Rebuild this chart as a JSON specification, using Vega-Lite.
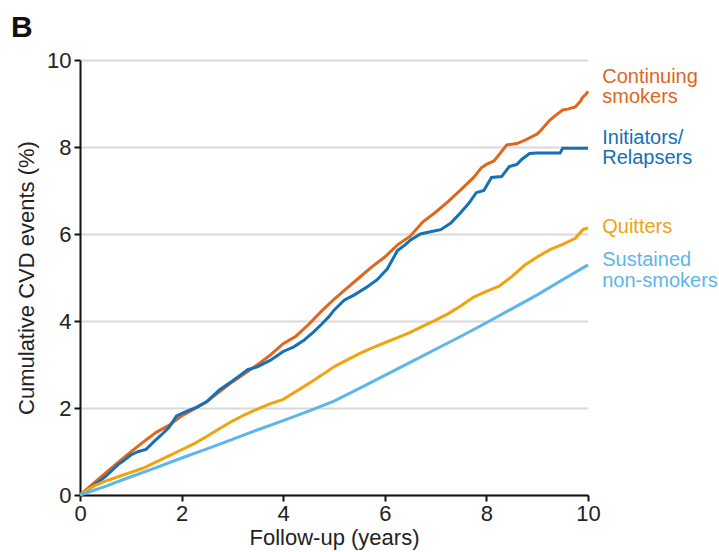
{
  "$schema": "https://vega.github.io/schema/vega-lite/v6.json",
  "width": 508,
  "height": 435,
  "autosize": {"type": "none"},
  "padding": {"left": 80, "top": 60, "right": 131, "bottom": 57},
  "background": "white",
  "config": {
    "font": "Liberation Sans",
    "view": {"stroke": null},
    "axis": {
      "labelFont": "Liberation Sans",
      "titleFont": "Liberation Sans",
      "labelFontSize": 22,
      "titleFontSize": 22,
      "labelColor": "#222",
      "titleColor": "#222",
      "titleFontWeight": "normal",
      "labelFlush": false,
      "domainColor": "#111",
      "domainWidth": 2,
      "tickColor": "#111",
      "tickWidth": 2,
      "tickSize": 6,
      "gridColor": "#d9d9d9",
      "gridWidth": 2
    }
  },
  "title": {
    "text": "B",
    "anchor": "start",
    "frame": "group",
    "fontSize": 30,
    "fontWeight": "bold",
    "color": "#111",
    "font": "Liberation Sans",
    "baseline": "bottom",
    "offset": 16,
    "dx": -69,
    "dy": 40
  },
  "layer": [
    {
      "data": {
        "values": [
          {"group": "Continuing smokers", "year": 0, "pct": 0},
          {"group": "Continuing smokers", "year": 0.25, "pct": 0.25},
          {"group": "Continuing smokers", "year": 0.5, "pct": 0.5},
          {"group": "Continuing smokers", "year": 0.75, "pct": 0.75},
          {"group": "Continuing smokers", "year": 1.0, "pct": 0.99},
          {"group": "Continuing smokers", "year": 1.25, "pct": 1.22},
          {"group": "Continuing smokers", "year": 1.5, "pct": 1.44},
          {"group": "Continuing smokers", "year": 1.75, "pct": 1.6},
          {"group": "Continuing smokers", "year": 2.0, "pct": 1.82},
          {"group": "Continuing smokers", "year": 2.25, "pct": 1.98},
          {"group": "Continuing smokers", "year": 2.5, "pct": 2.15},
          {"group": "Continuing smokers", "year": 2.75, "pct": 2.38},
          {"group": "Continuing smokers", "year": 3.0, "pct": 2.6},
          {"group": "Continuing smokers", "year": 3.25, "pct": 2.8},
          {"group": "Continuing smokers", "year": 3.5, "pct": 3.0},
          {"group": "Continuing smokers", "year": 3.75, "pct": 3.22},
          {"group": "Continuing smokers", "year": 4.0, "pct": 3.48},
          {"group": "Continuing smokers", "year": 4.25, "pct": 3.65},
          {"group": "Continuing smokers", "year": 4.5, "pct": 3.92},
          {"group": "Continuing smokers", "year": 4.75, "pct": 4.22},
          {"group": "Continuing smokers", "year": 5.0, "pct": 4.5},
          {"group": "Continuing smokers", "year": 5.25, "pct": 4.75},
          {"group": "Continuing smokers", "year": 5.5, "pct": 5.0},
          {"group": "Continuing smokers", "year": 5.75, "pct": 5.25},
          {"group": "Continuing smokers", "year": 6.0, "pct": 5.47},
          {"group": "Continuing smokers", "year": 6.25, "pct": 5.75},
          {"group": "Continuing smokers", "year": 6.5, "pct": 5.95},
          {"group": "Continuing smokers", "year": 6.75, "pct": 6.28},
          {"group": "Continuing smokers", "year": 7.0, "pct": 6.5},
          {"group": "Continuing smokers", "year": 7.25, "pct": 6.75},
          {"group": "Continuing smokers", "year": 7.5, "pct": 7.02},
          {"group": "Continuing smokers", "year": 7.75, "pct": 7.3},
          {"group": "Continuing smokers", "year": 7.9, "pct": 7.52},
          {"group": "Continuing smokers", "year": 8.0, "pct": 7.6},
          {"group": "Continuing smokers", "year": 8.15, "pct": 7.68},
          {"group": "Continuing smokers", "year": 8.3, "pct": 7.9},
          {"group": "Continuing smokers", "year": 8.4, "pct": 8.05},
          {"group": "Continuing smokers", "year": 8.6, "pct": 8.08},
          {"group": "Continuing smokers", "year": 8.75, "pct": 8.15},
          {"group": "Continuing smokers", "year": 9.0, "pct": 8.3},
          {"group": "Continuing smokers", "year": 9.1, "pct": 8.42},
          {"group": "Continuing smokers", "year": 9.25, "pct": 8.62},
          {"group": "Continuing smokers", "year": 9.4, "pct": 8.76},
          {"group": "Continuing smokers", "year": 9.5, "pct": 8.85},
          {"group": "Continuing smokers", "year": 9.6, "pct": 8.87},
          {"group": "Continuing smokers", "year": 9.75, "pct": 8.92},
          {"group": "Continuing smokers", "year": 9.85, "pct": 9.05},
          {"group": "Continuing smokers", "year": 9.9, "pct": 9.15},
          {"group": "Continuing smokers", "year": 9.95, "pct": 9.2},
          {"group": "Continuing smokers", "year": 10, "pct": 9.28},

          {"group": "Initiators/Relapsers", "year": 0, "pct": 0},
          {"group": "Initiators/Relapsers", "year": 0.25, "pct": 0.2},
          {"group": "Initiators/Relapsers", "year": 0.5, "pct": 0.42},
          {"group": "Initiators/Relapsers", "year": 0.75, "pct": 0.7},
          {"group": "Initiators/Relapsers", "year": 0.85, "pct": 0.78},
          {"group": "Initiators/Relapsers", "year": 1.0, "pct": 0.92},
          {"group": "Initiators/Relapsers", "year": 1.15, "pct": 1.0},
          {"group": "Initiators/Relapsers", "year": 1.3, "pct": 1.05},
          {"group": "Initiators/Relapsers", "year": 1.45, "pct": 1.22},
          {"group": "Initiators/Relapsers", "year": 1.6, "pct": 1.38},
          {"group": "Initiators/Relapsers", "year": 1.75, "pct": 1.55},
          {"group": "Initiators/Relapsers", "year": 1.9, "pct": 1.82},
          {"group": "Initiators/Relapsers", "year": 2.05, "pct": 1.9},
          {"group": "Initiators/Relapsers", "year": 2.3, "pct": 2.02},
          {"group": "Initiators/Relapsers", "year": 2.5, "pct": 2.15},
          {"group": "Initiators/Relapsers", "year": 2.75, "pct": 2.42},
          {"group": "Initiators/Relapsers", "year": 3.0, "pct": 2.62},
          {"group": "Initiators/Relapsers", "year": 3.15, "pct": 2.75},
          {"group": "Initiators/Relapsers", "year": 3.3, "pct": 2.88},
          {"group": "Initiators/Relapsers", "year": 3.5, "pct": 2.95},
          {"group": "Initiators/Relapsers", "year": 3.75, "pct": 3.1},
          {"group": "Initiators/Relapsers", "year": 4.0, "pct": 3.3},
          {"group": "Initiators/Relapsers", "year": 4.2, "pct": 3.4},
          {"group": "Initiators/Relapsers", "year": 4.4, "pct": 3.55},
          {"group": "Initiators/Relapsers", "year": 4.6, "pct": 3.75},
          {"group": "Initiators/Relapsers", "year": 4.75, "pct": 3.92},
          {"group": "Initiators/Relapsers", "year": 4.9, "pct": 4.1},
          {"group": "Initiators/Relapsers", "year": 5.0, "pct": 4.25},
          {"group": "Initiators/Relapsers", "year": 5.2, "pct": 4.48},
          {"group": "Initiators/Relapsers", "year": 5.4, "pct": 4.6},
          {"group": "Initiators/Relapsers", "year": 5.65, "pct": 4.78},
          {"group": "Initiators/Relapsers", "year": 5.85, "pct": 4.95},
          {"group": "Initiators/Relapsers", "year": 6.05, "pct": 5.2},
          {"group": "Initiators/Relapsers", "year": 6.25, "pct": 5.62},
          {"group": "Initiators/Relapsers", "year": 6.4, "pct": 5.75},
          {"group": "Initiators/Relapsers", "year": 6.5, "pct": 5.86},
          {"group": "Initiators/Relapsers", "year": 6.7, "pct": 6.0},
          {"group": "Initiators/Relapsers", "year": 6.9, "pct": 6.05},
          {"group": "Initiators/Relapsers", "year": 7.1, "pct": 6.1},
          {"group": "Initiators/Relapsers", "year": 7.3, "pct": 6.25},
          {"group": "Initiators/Relapsers", "year": 7.5, "pct": 6.5},
          {"group": "Initiators/Relapsers", "year": 7.65, "pct": 6.7},
          {"group": "Initiators/Relapsers", "year": 7.8, "pct": 6.95},
          {"group": "Initiators/Relapsers", "year": 7.95, "pct": 7.0},
          {"group": "Initiators/Relapsers", "year": 8.1, "pct": 7.3},
          {"group": "Initiators/Relapsers", "year": 8.3, "pct": 7.32},
          {"group": "Initiators/Relapsers", "year": 8.45, "pct": 7.55},
          {"group": "Initiators/Relapsers", "year": 8.6, "pct": 7.6},
          {"group": "Initiators/Relapsers", "year": 8.7, "pct": 7.72},
          {"group": "Initiators/Relapsers", "year": 8.85, "pct": 7.85},
          {"group": "Initiators/Relapsers", "year": 9.0, "pct": 7.86},
          {"group": "Initiators/Relapsers", "year": 9.45, "pct": 7.86},
          {"group": "Initiators/Relapsers", "year": 9.5, "pct": 7.97},
          {"group": "Initiators/Relapsers", "year": 10, "pct": 7.97},

          {"group": "Quitters", "year": 0, "pct": 0},
          {"group": "Quitters", "year": 0.15, "pct": 0.12},
          {"group": "Quitters", "year": 0.3, "pct": 0.22},
          {"group": "Quitters", "year": 0.5, "pct": 0.32},
          {"group": "Quitters", "year": 0.75, "pct": 0.42},
          {"group": "Quitters", "year": 1.0, "pct": 0.52},
          {"group": "Quitters", "year": 1.25, "pct": 0.62},
          {"group": "Quitters", "year": 1.5, "pct": 0.76},
          {"group": "Quitters", "year": 1.75, "pct": 0.9},
          {"group": "Quitters", "year": 2.0, "pct": 1.04},
          {"group": "Quitters", "year": 2.25, "pct": 1.18},
          {"group": "Quitters", "year": 2.5, "pct": 1.35},
          {"group": "Quitters", "year": 2.75, "pct": 1.53},
          {"group": "Quitters", "year": 3.0, "pct": 1.7},
          {"group": "Quitters", "year": 3.25, "pct": 1.85},
          {"group": "Quitters", "year": 3.5, "pct": 1.98},
          {"group": "Quitters", "year": 3.75, "pct": 2.1},
          {"group": "Quitters", "year": 4.0, "pct": 2.2},
          {"group": "Quitters", "year": 4.25, "pct": 2.38},
          {"group": "Quitters", "year": 4.5, "pct": 2.56},
          {"group": "Quitters", "year": 4.75, "pct": 2.75},
          {"group": "Quitters", "year": 5.0, "pct": 2.95},
          {"group": "Quitters", "year": 5.25, "pct": 3.1},
          {"group": "Quitters", "year": 5.5, "pct": 3.25},
          {"group": "Quitters", "year": 5.75, "pct": 3.38},
          {"group": "Quitters", "year": 6.0, "pct": 3.5},
          {"group": "Quitters", "year": 6.25, "pct": 3.62},
          {"group": "Quitters", "year": 6.5, "pct": 3.74},
          {"group": "Quitters", "year": 6.75, "pct": 3.88},
          {"group": "Quitters", "year": 7.0, "pct": 4.02},
          {"group": "Quitters", "year": 7.25, "pct": 4.17},
          {"group": "Quitters", "year": 7.5, "pct": 4.35},
          {"group": "Quitters", "year": 7.75, "pct": 4.55},
          {"group": "Quitters", "year": 8.0, "pct": 4.68},
          {"group": "Quitters", "year": 8.25, "pct": 4.8},
          {"group": "Quitters", "year": 8.5, "pct": 5.02},
          {"group": "Quitters", "year": 8.75, "pct": 5.28},
          {"group": "Quitters", "year": 9.0, "pct": 5.47},
          {"group": "Quitters", "year": 9.25, "pct": 5.64},
          {"group": "Quitters", "year": 9.5, "pct": 5.76},
          {"group": "Quitters", "year": 9.75, "pct": 5.9},
          {"group": "Quitters", "year": 9.9, "pct": 6.1},
          {"group": "Quitters", "year": 10, "pct": 6.14},

          {"group": "Sustained non-smokers", "year": 0, "pct": 0},
          {"group": "Sustained non-smokers", "year": 0.5, "pct": 0.2},
          {"group": "Sustained non-smokers", "year": 1.0, "pct": 0.42},
          {"group": "Sustained non-smokers", "year": 1.5, "pct": 0.63},
          {"group": "Sustained non-smokers", "year": 2.0, "pct": 0.85},
          {"group": "Sustained non-smokers", "year": 2.5, "pct": 1.06},
          {"group": "Sustained non-smokers", "year": 3.0, "pct": 1.28},
          {"group": "Sustained non-smokers", "year": 3.5, "pct": 1.5},
          {"group": "Sustained non-smokers", "year": 4.0, "pct": 1.71},
          {"group": "Sustained non-smokers", "year": 4.5, "pct": 1.93},
          {"group": "Sustained non-smokers", "year": 5.0, "pct": 2.16},
          {"group": "Sustained non-smokers", "year": 5.5, "pct": 2.45},
          {"group": "Sustained non-smokers", "year": 6.0, "pct": 2.75},
          {"group": "Sustained non-smokers", "year": 6.5, "pct": 3.05},
          {"group": "Sustained non-smokers", "year": 7.0, "pct": 3.35},
          {"group": "Sustained non-smokers", "year": 7.5, "pct": 3.65},
          {"group": "Sustained non-smokers", "year": 8.0, "pct": 3.96},
          {"group": "Sustained non-smokers", "year": 8.5, "pct": 4.28},
          {"group": "Sustained non-smokers", "year": 9.0, "pct": 4.6},
          {"group": "Sustained non-smokers", "year": 9.5, "pct": 4.95},
          {"group": "Sustained non-smokers", "year": 10, "pct": 5.29}
        ]
      },
      "mark": {"type": "line", "strokeWidth": 3, "clip": false},
      "encoding": {
        "x": {
          "field": "year", "type": "quantitative",
          "scale": {"domain": [0, 10], "nice": false},
          "axis": {"values": [0, 2, 4, 6, 8, 10], "grid": false, "title": "Follow-up (years)", "labelPadding": 2, "titlePadding": 3}
        },
        "y": {
          "field": "pct", "type": "quantitative",
          "scale": {"domain": [0, 10], "nice": false},
          "axis": {"values": [0, 2, 4, 6, 8, 10], "grid": true, "title": "Cumulative CVD events (%)", "labelPadding": 3, "titlePadding": 8}
        },
        "color": {
          "field": "group", "type": "nominal",
          "scale": {
            "domain": ["Continuing smokers", "Initiators/Relapsers", "Quitters", "Sustained non-smokers"],
            "range": ["#E0661C", "#1570B5", "#F0A30E", "#5CB6EC"]
          },
          "legend": null
        },
        "order": {"field": "year", "type": "quantitative"}
      }
    },
    {
      "data": {
        "values": [
          {"label": "Continuing", "group": "Continuing smokers", "year": 10.28, "pct": 9.61},
          {"label": "smokers", "group": "Continuing smokers", "year": 10.28, "pct": 9.14},
          {"label": "Initiators/", "group": "Initiators/Relapsers", "year": 10.28, "pct": 8.2},
          {"label": "Relapsers", "group": "Initiators/Relapsers", "year": 10.28, "pct": 7.74},
          {"label": "Quitters", "group": "Quitters", "year": 10.28, "pct": 6.16},
          {"label": "Sustained", "group": "Sustained non-smokers", "year": 10.28, "pct": 5.4},
          {"label": "non-smokers", "group": "Sustained non-smokers", "year": 10.28, "pct": 4.93}
        ]
      },
      "mark": {"type": "text", "align": "left", "baseline": "middle", "fontSize": 20, "font": "Liberation Sans", "clip": false},
      "encoding": {
        "x": {"field": "year", "type": "quantitative"},
        "y": {"field": "pct", "type": "quantitative"},
        "text": {"field": "label"},
        "color": {"field": "group", "type": "nominal", "legend": null}
      }
    }
  ]
}
